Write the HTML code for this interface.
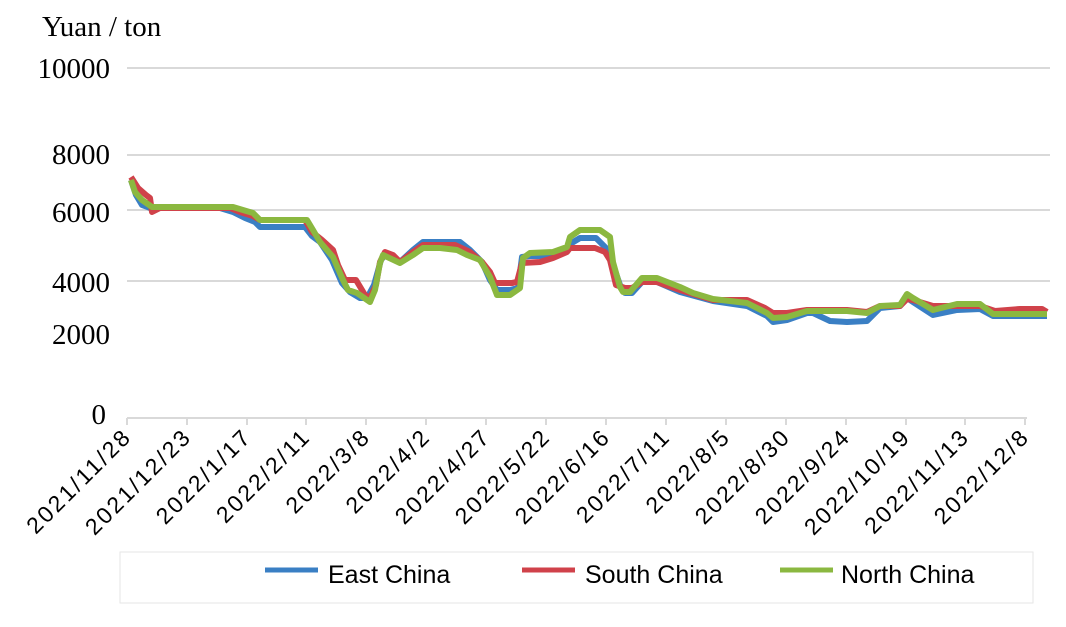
<!DOCTYPE html><html><head><style>body{margin:0;background:#fff}</style></head><body>
<svg width="1066" height="622" xmlns="http://www.w3.org/2000/svg" font-family="Liberation Serif, serif">
<text x="42" y="36" font-size="29">Yuan / ton</text>
<g font-size="29" text-anchor="end">
<text x="110" y="78">10000</text><text x="110" y="164">8000</text><text x="110" y="222">6000</text>
<text x="110" y="292">4000</text><text x="110" y="344">2000</text><text x="106" y="424">0</text></g>
<g stroke="#d9d9d9" stroke-width="2"><line x1="127" y1="68" x2="1050" y2="68"/><line x1="127" y1="155" x2="1050" y2="155"/>
<line x1="127" y1="210" x2="1050" y2="210"/><line x1="127" y1="281" x2="1050" y2="281"/>
<line x1="127" y1="418" x2="1027" y2="418"/>
<path d="M127 418v7M187 418v7M247 418v7M306 418v7M366 418v7M426 418v7M486 418v7M546 418v7M606 418v7M666 418v7M726 418v7M786 418v7M846 418v7M906 418v7M965 418v7M1025 418v7"/></g>
<g font-family="Liberation Sans, sans-serif" font-size="23" letter-spacing="2.4" text-anchor="end">
<text transform="translate(133,438) rotate(-45)">2021/11/28</text>
<text transform="translate(193,438) rotate(-45)">2021/12/23</text>
<text transform="translate(253,438) rotate(-45)">2022/1/17</text>
<text transform="translate(312,438) rotate(-45)">2022/2/11</text>
<text transform="translate(372,438) rotate(-45)">2022/3/8</text>
<text transform="translate(432,438) rotate(-45)">2022/4/2</text>
<text transform="translate(492,438) rotate(-45)">2022/4/27</text>
<text transform="translate(552,438) rotate(-45)">2022/5/22</text>
<text transform="translate(612,438) rotate(-45)">2022/6/16</text>
<text transform="translate(672,438) rotate(-45)">2022/7/11</text>
<text transform="translate(732,438) rotate(-45)">2022/8/5</text>
<text transform="translate(792,438) rotate(-45)">2022/8/30</text>
<text transform="translate(852,438) rotate(-45)">2022/9/24</text>
<text transform="translate(912,438) rotate(-45)">2022/10/19</text>
<text transform="translate(971,438) rotate(-45)">2022/11/13</text>
<text transform="translate(1031,438) rotate(-45)">2022/12/8</text></g>
<g fill="none" stroke-width="6" stroke-linejoin="round">
<polyline stroke="#3a7fc4" points="131,180 136,195 142,205 150,208 190,208 220,208 233,212 245,218 255,222 260,227 305,227 312,236 320,242 332,260 342,283 350,292 360,298 367,298 374,285 381,260 385,255 400,262 413,250 423,242 460,242 470,250 482,262 490,280 497,290 510,290 518,288 522,257 530,256 553,256 567,250 570,244 580,238 596,238 606,248 612,262 620,285 625,293 632,293 642,282 657,282 680,292 713,301 747,306 767,316 773,322 787,320 807,313 813,313 830,321 847,322 867,321 880,308 900,306 907,298 913,302 933,315 957,310 980,309 993,316 1047,316"/>
<polyline stroke="#d0424a" points="131,177 138,188 146,195 150,198 152,212 160,208 190,208 230,208 240,212 253,216 260,220 305,220 312,232 322,240 333,250 338,265 345,280 356,280 365,295 370,298 376,285 380,262 385,252 393,255 400,262 413,252 423,245 455,245 470,252 482,262 490,272 495,283 512,283 517,282 522,263 540,262 553,258 567,252 570,248 595,248 605,252 610,260 616,285 625,288 632,288 642,282 657,282 680,290 713,300 747,300 765,308 773,313 787,313 807,310 847,310 867,312 880,306 900,306 907,299 913,300 933,306 957,306 980,306 995,311 1020,309 1042,309 1047,312"/>
<polyline stroke="#8bb840" points="131,180 135,192 142,200 152,207 190,207 233,207 253,213 260,220 307,220 313,230 320,242 333,257 343,280 348,290 357,293 370,302 375,290 380,263 383,255 400,263 413,255 423,248 440,248 457,250 467,255 480,260 490,277 497,295 510,295 520,288 523,258 530,253 553,252 567,247 570,237 580,230 600,230 610,237 613,262 620,287 623,292 630,292 642,278 657,278 680,287 693,293 713,299 747,303 767,313 773,318 787,317 807,311 847,311 867,313 880,306 900,305 907,294 913,298 933,310 957,304 980,304 993,314 1047,314"/>
</g>
<rect x="120" y="552" width="913" height="51" fill="none" stroke="#e6e6e6"/>
<g stroke-width="5"><line x1="265" y1="570" x2="318" y2="570" stroke="#3a7fc4"/><line x1="522" y1="570" x2="575" y2="570" stroke="#d0424a"/><line x1="780" y1="570" x2="833" y2="570" stroke="#8bb840"/></g>
<g font-family="Liberation Sans, sans-serif" font-size="25"><text x="328" y="583">East China</text><text x="585" y="583">South China</text><text x="841" y="583">North China</text></g>
</svg></body></html>
